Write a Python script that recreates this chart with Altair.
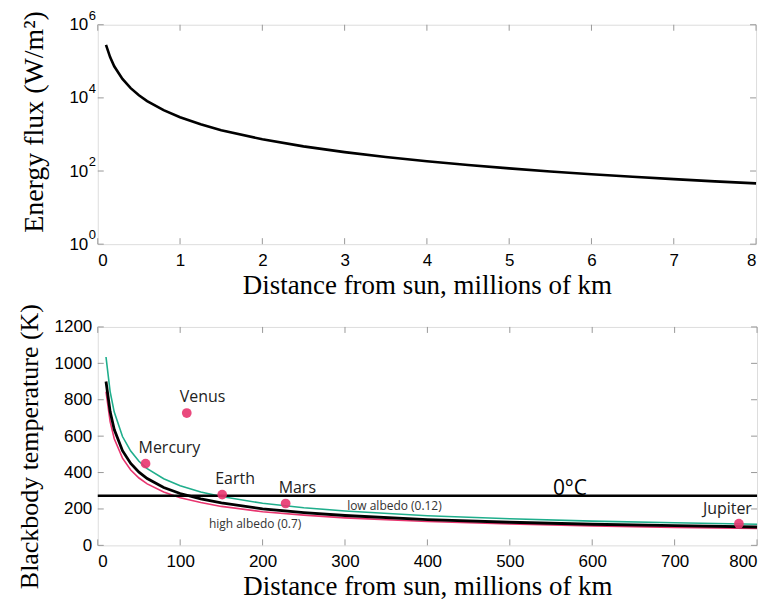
import altair as alt
import pandas as pd

# ---------------- data ----------------
# top panel: energy flux vs distance
flux_dist = [0.1, 0.15, 0.2, 0.3, 0.4, 0.5, 0.6, 0.8, 1, 1.25, 1.5, 2, 2.5, 3, 3.5, 4, 4.5, 5, 5.5, 6, 6.5, 7, 7.5, 8]
flux_vals = [280000, 130000, 73000, 33000, 18500, 11800, 8200, 4600, 2950, 1890, 1310, 736, 472, 328, 241, 184, 146, 118, 97, 82, 70, 60, 52, 46]
flux_tick_values = [1, 100, 10000, 1000000]
flux_tick_base = "10"
flux_tick_exponents = ["0", "2", "4", "6"]
flux_x_ticks = [0, 1, 2, 3, 4, 5, 6, 7, 8]

# bottom panel: blackbody temperature vs distance
temp_dist = [10, 15, 20, 30, 40, 50, 60, 80, 100, 125, 150, 200, 250, 300, 400, 500, 600, 700, 800]
temp_mid = [900, 735, 636, 520, 450, 402, 367, 318, 285, 255, 233, 201, 180, 164, 142, 127, 116, 108, 101]
temp_low_albedo = [1035, 845, 732, 598, 518, 462, 422, 366, 328, 293, 268, 231, 207, 189, 163, 146, 133, 124, 116]
temp_high_albedo = [845, 680, 586, 479, 414, 370, 338, 293, 262, 235, 214, 185, 166, 151, 131, 117, 107, 99, 93]

planets = ["Mercury", "Venus", "Earth", "Mars", "Jupiter"]
planet_dist = [58, 108, 151, 228, 778]
planet_temp = [449, 727, 279, 230, 119]

freezing_k = 273
temp_x_ticks = [0, 100, 200, 300, 400, 500, 600, 700, 800]
temp_y_ticks = [0, 200, 400, 600, 800, 1000, 1200]

ann_text = ["0°C", "low albedo (0.12)", "high albedo (0.7)"]
ann_x = [573, 360, 191]
ann_y = [279, 197, 98]

# ---------------- styles ----------------
SERIF = "Liberation Serif"
SANS = "Liberation Sans"
ANN = "Open Sans"
W1, H1 = 660, 220
W2, H2 = 661, 219
TICK = "#999999"
GREEN = "#1fae8c"
PINK = "#e8356f"


def axis_x(title, values):
    return alt.Axis(title=title, values=values, ticks=False, grid=False, domain=False,
                    format="d", labelOverlap=False,
                    labelFont=SANS, labelFontSize=17, labelColor="black", labelPadding=8,
                    titleFont=SERIF, titleFontSize=27, titleFontWeight="normal",
                    titleColor="black", titlePadding=4)


def axis_y(title, values, title_y, fs, expr=None, lpad=6, tpad=14):
    kw = dict(title=title, values=values, ticks=False, grid=False, domain=False,
              labelOverlap=False, labelFont=SANS, labelFontSize=17, labelColor="black",
              labelPadding=lpad, titleFont=SERIF, titleFontSize=fs, titleFontWeight="normal",
              titleColor="black", titlePadding=tpad, titleY=title_y)
    if expr:
        kw["labelExpr"] = expr
    else:
        kw["format"] = "d"
    return alt.Axis(**kw)


def inward_ticks(xvals, yvals, xenc, yenc, xf, yf, h, w):
    dx = pd.DataFrame({xf: xvals})
    dy = pd.DataFrame({yf: yvals})
    rules = []
    for a, b in [(0, 6), (h - 6, h)]:
        rules.append(alt.Chart(dx).mark_rule(color=TICK, strokeWidth=1).encode(
            x=xenc, y=alt.value(a), y2=alt.value(b)))
    for a, b in [(0, 6), (w - 6, w)]:
        rules.append(alt.Chart(dy).mark_rule(color=TICK, strokeWidth=1).encode(
            y=yenc, x=alt.value(a), x2=alt.value(b)))
    return rules


# ---------------- top chart ----------------
xs1 = alt.Scale(domain=[0, 8], nice=False, zero=False)
ys1 = alt.Scale(type="log", domain=[1, 1000000], nice=False)
flux_df = pd.DataFrame({"d": flux_dist, "f": flux_vals})
xenc1 = alt.X("d:Q", scale=xs1, axis=axis_x("Distance from sun, millions of km", flux_x_ticks))
yenc1 = alt.Y("f:Q", scale=ys1, axis=axis_y("Energy flux (W/m²)", flux_tick_values, H1 / 2 - 13, 28,
                                            expr=f"'{flux_tick_base}'", lpad=10, tpad=20))

top_line = alt.Chart(flux_df).mark_line(color="black", strokeWidth=2.6).encode(x=xenc1, y=yenc1)
exp_df = pd.DataFrame({"f": flux_tick_values, "e": flux_tick_exponents})
exps = alt.Chart(exp_df).mark_text(font=SANS, fontSize=13, align="left", baseline="middle",
                                   dy=-9, color="black").encode(
    x=alt.value(-9), y=yenc1, text="e:N")

top = alt.layer(top_line, exps,
                *inward_ticks(flux_x_ticks, flux_tick_values, xenc1, yenc1, "d", "f", H1, W1)).properties(
    width=W1, height=H1)

# ---------------- bottom chart ----------------
xs2 = alt.Scale(domain=[0, 800], nice=False, zero=False)
ys2 = alt.Scale(domain=[0, 1200], nice=False)
xenc = alt.X("d:Q", scale=xs2, axis=axis_x("Distance from sun, millions of km", temp_x_ticks))
yenc = alt.Y("t:Q", scale=ys2, axis=axis_y("Blackbody temperature (K)", temp_y_ticks, H2 / 2 + 10, 26, tpad=12))

curves = pd.DataFrame({
    "d": temp_dist * 3,
    "t": temp_low_albedo + temp_high_albedo + temp_mid,
    "s": ["low"] * len(temp_dist) + ["high"] * len(temp_dist) + ["mid"] * len(temp_dist),
})
lines = []
for s, col, sw in [("low", GREEN, 1.6), ("high", PINK, 1.6), ("mid", "black", 2.8)]:
    lines.append(alt.Chart(curves).transform_filter(alt.datum.s == s).mark_line(
        color=col, strokeWidth=sw).encode(x=xenc, y=yenc))

freeze_df = pd.DataFrame({"d": [0, 800], "t": [freezing_k, freezing_k]})
freeze = alt.Chart(freeze_df).mark_line(color="black", strokeWidth=2.6).encode(x=xenc, y=yenc)

pl_df = pd.DataFrame({"name": planets, "d": planet_dist, "t": planet_temp})
dots = alt.Chart(pl_df).mark_circle(color=PINK, opacity=0.9, size=95).encode(x=xenc, y=yenc)
pl_left = alt.Chart(pl_df).transform_filter(alt.datum.name != "Jupiter").mark_text(
    font=ANN, fontSize=16, align="left", baseline="alphabetic", dx=-7, dy=-11, color="#222222"
).encode(x=xenc, y=yenc, text="name:N")
pl_right = alt.Chart(pl_df).transform_filter(alt.datum.name == "Jupiter").mark_text(
    font=ANN, fontSize=16, align="right", baseline="alphabetic", dx=13, dy=-10, color="#222222"
).encode(x=xenc, y=yenc, text="name:N")

ann_df = pd.DataFrame({"txt": ann_text, "d": ann_x, "t": ann_y})
ann_big = alt.Chart(ann_df).transform_filter(alt.datum.txt == "0°C").mark_text(
    font=ANN, fontSize=21, align="center", baseline="alphabetic", color="black"
).encode(x=xenc, y=yenc, text="txt:N")
ann_small = alt.Chart(ann_df).transform_filter(alt.datum.txt != "0°C").mark_text(
    font=ANN, fontSize=12, align="center", baseline="alphabetic", color="#333333"
).encode(x=xenc, y=yenc, text="txt:N")

bottom = alt.layer(*lines, freeze, dots, pl_left, pl_right, ann_big, ann_small,
                   *inward_ticks(temp_x_ticks, temp_y_ticks, xenc, yenc, "d", "t", H2, W2)).properties(
    width=W2, height=H2)

chart = alt.vconcat(top, bottom, spacing=4).properties(
    padding={"left": 7, "top": 0, "right": 5, "bottom": 0}
).configure_view(stroke="#555555", strokeWidth=1.2).configure(background="white")

chart.save("out.html", embed_options={"renderer": "svg", "actions": False})
